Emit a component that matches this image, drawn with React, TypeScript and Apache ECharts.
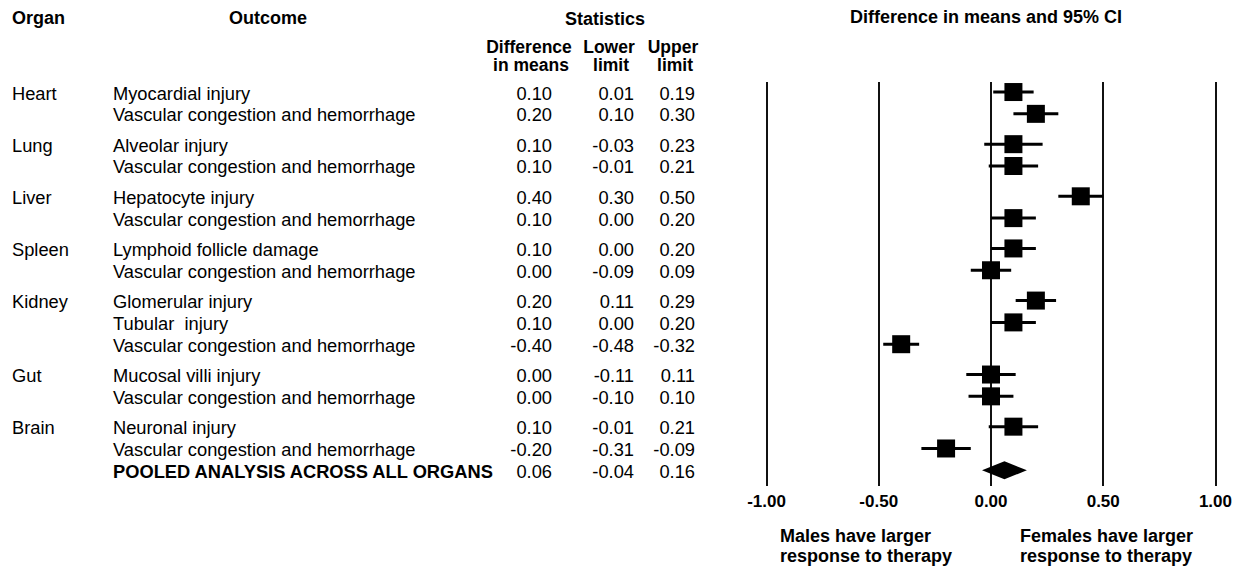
import React, { useEffect, useRef } from "react";
import * as echarts from "echarts";

const organs = ["Heart", "", "Lung", "", "Liver", "", "Spleen", "", "Kidney", "", "", "Gut", "", "Brain", "", ""];
const outcomes = [
  "Myocardial injury",
  "Vascular congestion and hemorrhage",
  "Alveolar injury",
  "Vascular congestion and hemorrhage",
  "Hepatocyte injury",
  "Vascular congestion and hemorrhage",
  "Lymphoid follicle damage",
  "Vascular congestion and hemorrhage",
  "Glomerular injury",
  "Tubular  injury",
  "Vascular congestion and hemorrhage",
  "Mucosal villi injury",
  "Vascular congestion and hemorrhage",
  "Neuronal injury",
  "Vascular congestion and hemorrhage",
  "POOLED ANALYSIS ACROSS ALL ORGANS",
];
const groups = [0, 0, 1, 1, 2, 2, 3, 3, 4, 4, 4, 5, 5, 6, 6, 6];
const diffs = [0.1, 0.2, 0.1, 0.1, 0.4, 0.1, 0.1, 0.0, 0.2, 0.1, -0.4, 0.0, 0.0, 0.1, -0.2, 0.06];
const lowers = [0.01, 0.1, -0.03, -0.01, 0.3, 0.0, 0.0, -0.09, 0.11, 0.0, -0.48, -0.11, -0.1, -0.01, -0.31, -0.04];
const uppers = [0.19, 0.3, 0.23, 0.21, 0.5, 0.2, 0.2, 0.09, 0.29, 0.2, -0.32, 0.11, 0.1, 0.21, -0.09, 0.16];
const pooledFlags = [false, false, false, false, false, false, false, false, false, false, false, false, false, false, false, true];
const xTicks = [-1, -0.5, 0, 0.5, 1];

const FONT = '"Liberation Sans", Arial, Helvetica, sans-serif';
const GAP = 0.39;
const yPos = (i: number) => i + groups[i] * GAP;

export default function App() {
  const ref = useRef<HTMLDivElement>(null);
  useEffect(() => {
    if (!ref.current) return;
    const chart = echarts.init(ref.current, undefined, { renderer: "svg" });
    const rows = diffs.map((_, i) => i);
    const gridTop = 82;
    const gridBottom = 84;
    const yMin = -0.46;
    const yMax = 18.06;

    const txt = (text: string, x: number, y: number, align: string, bold: boolean, size = 18) => ({
      type: "text",
      x,
      y,
      silent: true,
      style: {
        text,
        font: `${bold ? "bold " : ""}${size}px ${FONT}`,
        fill: "#000",
        align,
        verticalAlign: "middle",
        textAlign: align,
        textVerticalAlign: "middle",
      },
    });

    chart.setOption({
      animation: false,
      backgroundColor: "#fff",
      grid: [
        { left: 0, width: 740, top: gridTop, bottom: gridBottom },
        { left: 766.5, width: 449, top: gridTop, bottom: gridBottom },
      ],
      xAxis: [
        { gridIndex: 0, type: "value", min: 0, max: 740, show: false },
        {
          gridIndex: 1,
          type: "value",
          min: xTicks[0],
          max: xTicks[xTicks.length - 1],
          interval: 0.5,
          axisLine: { show: false },
          axisTick: { show: false },
          splitLine: { show: true, lineStyle: { color: "#111", width: 2 } },
          axisLabel: {
            margin: 7,
            fontFamily: FONT,
            fontWeight: "bold",
            fontSize: 17,
            color: "#000",
            formatter: (v: number) => v.toFixed(2),
          },
        },
      ],
      yAxis: [
        { gridIndex: 0, type: "value", inverse: true, min: yMin, max: yMax, show: false },
        { gridIndex: 1, type: "value", inverse: true, min: yMin, max: yMax, show: false },
      ],
      graphic: [
        txt("Organ", 12, 18, "left", true),
        txt("Outcome", 229, 18, "left", true),
        txt("Statistics", 605, 19, "center", true),
        txt("Difference", 529, 47, "center", true, 17.5),
        txt("in means", 531, 65, "center", true, 17.5),
        txt("Lower", 609, 47, "center", true, 17.5),
        txt("limit", 611, 65, "center", true, 17.5),
        txt("Upper", 673, 47, "center", true, 17.5),
        txt("limit", 675, 65, "center", true, 17.5),
        txt("Difference in means and 95% CI", 986, 17, "center", true),
        txt("Males have larger", 780, 536, "left", true),
        txt("response to therapy", 780, 556, "left", true),
        txt("Females have larger", 1020, 536, "left", true),
        txt("response to therapy", 1020, 556, "left", true),
      ],
      series: [
        {
          type: "custom",
          xAxisIndex: 0,
          yAxisIndex: 0,
          silent: true,
          data: rows.map((i) => [0, yPos(i)]),
          renderItem: (params: any, api: any) => {
            const i = params.dataIndex;
            const y = api.coord([0, yPos(i)])[1] + 1;
            const cx = (v: number) => api.coord([v, yPos(i)])[0];
            const t = (text: string, x: number, align: string, bold = false) => ({
              type: "text",
              style: {
                text,
                x,
                y,
                font: `${bold ? "bold " : ""}18.3px ${FONT}`,
                fill: "#000",
                align,
                verticalAlign: "middle",
                textAlign: align,
                textVerticalAlign: "middle",
              },
            });
            return {
              type: "group",
              children: [
                t(organs[i], cx(12), "left"),
                t(outcomes[i], cx(113), "left", pooledFlags[i]),
                t(diffs[i].toFixed(2), cx(552), "right"),
                t(lowers[i].toFixed(2), cx(634), "right"),
                t(uppers[i].toFixed(2), cx(695), "right"),
              ],
            };
          },
        },
        {
          type: "custom",
          xAxisIndex: 1,
          yAxisIndex: 1,
          silent: true,
          clip: false,
          data: rows.map((i) => [diffs[i], yPos(i), lowers[i], uppers[i]]),
          renderItem: (params: any, api: any) => {
            const i = params.dataIndex;
            const [mx, my] = api.coord([diffs[i], yPos(i)]);
            const lx = api.coord([lowers[i], yPos(i)])[0];
            const ux = api.coord([uppers[i], yPos(i)])[0];
            if (pooledFlags[i]) {
              return {
                type: "polygon",
                shape: { points: [[lx, my], [mx, my - 9], [ux, my], [mx, my + 9]] },
                style: { fill: "#000" },
              };
            }
            return {
              type: "group",
              children: [
                {
                  type: "line",
                  shape: { x1: lx, y1: my, x2: ux, y2: my },
                  style: { stroke: "#000", lineWidth: 3 },
                },
                {
                  type: "rect",
                  shape: { x: mx - 9, y: my - 9, width: 18, height: 18 },
                  style: { fill: "#000" },
                },
              ],
            };
          },
        },
      ],
    });
    return () => chart.dispose();
  }, []);
  return (
    <div
      ref={ref}
      style={{ position: "fixed", left: 0, top: 0, width: 1235, height: 570, background: "#fff" }}
    />
  );
}
